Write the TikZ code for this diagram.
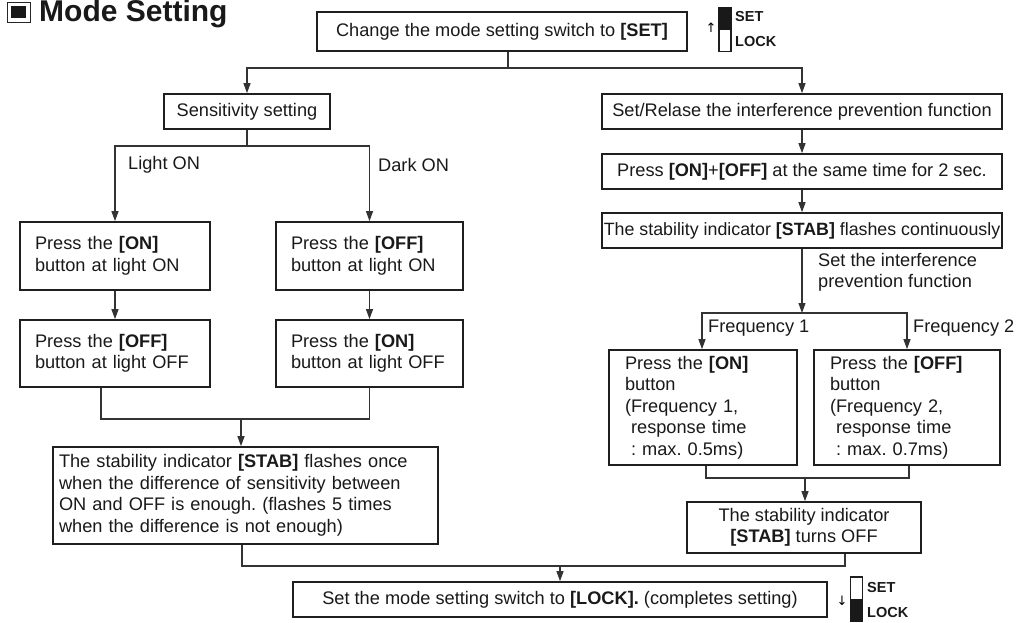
\documentclass[tikz,border=0pt]{standalone}
\usepackage{fontspec}
\setmainfont{Liberation Sans}
\newfontfamily\symfont{DejaVu Sans}
\usetikzlibrary{arrows.meta,calc}
\frenchspacing
\newcommand\fsz{\fontsize{18.2}{21.5}\selectfont\frenchspacing}
\newcommand\swfont{\fontsize{14.5}{16}\selectfont\bfseries}
\tikzset{
  box/.style={draw=black!88, line width=1.7pt, inner sep=0pt, font=\fsz, text=black!90},
  lbox/.style={box, align=left},
  cbox/.style={box, align=center},
  conn/.style={draw=black!80, line width=1.1pt},
  arr/.style={conn, -{Triangle[width=7pt,length=10pt]}},
  lbl/.style={inner sep=0pt, font=\fsz, anchor=west, align=left, text=black!90},
  swlbl/.style={inner sep=0pt, font=\swfont, anchor=west, text=black!90},
  swbox/.style={draw=black!88, line width=1.1pt, inner sep=0pt, minimum width=12, minimum height=44},
}
\begin{document}
\begin{tikzpicture}[x=1pt,y=-1pt]
\useasboundingbox (0,0) rectangle (1017,622);

% title
\draw[line width=0.8pt, draw=black!85] (7,2) rectangle (30,22);
\fill[black!90] (11,6) rectangle (26,18);
\node[inner sep=0pt, anchor=base west, font=\fontsize{30}{30}\selectfont\bfseries, text=black!90] (title) at (39,21.5) {Mode Setting};

% top
\node[cbox, minimum width=370, minimum height=39] (top) at (502,31.5) {Change the mode setting switch to \textbf{[SET]}};
\node[inner sep=0pt, font=\symfont\fontsize{13}{13}\selectfont] (uparr) at (711,28) {↑};
\node[swbox] (sw1) at (725,29.5) {};
\fill[black!90] (sw1.north west) rectangle (sw1.east);
\node[swlbl] (set1) at (735,17) {SET};
\node[swlbl] (lock1) at (735,42) {LOCK};

% left column
\node[cbox, minimum width=166, minimum height=35] (sens) at (247,111.5) {Sensitivity setting};
\node[lbox, minimum width=190, minimum height=68, inner xsep=15, text width=160] (onL) at (115,256) {Press the \textbf{[ON]}\\button at light ON};
\node[lbox, minimum width=187, minimum height=68, inner xsep=15, text width=157] (offL) at (369.5,256) {Press the \textbf{[OFF]}\\button at light ON};
\node[lbox, minimum width=190, minimum height=67, inner xsep=15, text width=160] (offL2) at (115,353.5) {Press the \textbf{[OFF]}\\button at light OFF};
\node[lbox, minimum width=187, minimum height=67, inner xsep=15, text width=157] (onL2) at (369.5,353.5) {Press the \textbf{[ON]}\\button at light OFF};
\node[lbox, minimum width=385, minimum height=97, inner xsep=6, text width=373] (stabL) at (245.5,495.5) {The stability indicator \textbf{[STAB]} flashes once\\when the difference of sensitivity between\\ON and OFF is enough. (flashes 5 times\\when the difference is not enough)};
\node[lbl] (lighton) at (128,165) {Light ON};
\node[lbl] (darkon) at (378,165) {Dark ON};

% right column
\node[cbox, minimum width=400, minimum height=35] (setrel) at (802,111.5) {Set/Relase the interference prevention function};
\node[cbox, minimum width=400, minimum height=35] (press) at (802,171.5) {Press \textbf{[ON]}+\textbf{[OFF]} at the same time for 2 sec.};
\node[cbox, minimum width=400, minimum height=35] (stabR) at (802,230.5) {\fontsize{17.8}{21.5}\selectfont The stability indicator \textbf{[STAB]} flashes continuously};
\node[lbl] (setint) at (818,272.5) {Set the interference\\prevention function};
\node[lbox, minimum width=188, minimum height=115, inner xsep=16, text width=156] (f1) at (703,407.5) {Press the \textbf{[ON]}\\button\\(Frequency 1,\\~response time\\~: max. 0.5ms)};
\node[lbox, minimum width=186, minimum height=115, inner xsep=16, text width=154] (f2) at (907,407.5) {Press the \textbf{[OFF]}\\button\\(Frequency 2,\\~response time\\~: max. 0.7ms)};
\node[lbl] (fq1) at (708,328) {Frequency 1};
\node[lbl] (fq2) at (913,328) {Frequency 2};
\node[cbox, minimum width=234, minimum height=51] (stabOff) at (804,527.5) {The stability indicator\\\textbf{[STAB]} turns OFF};

% bottom
\node[cbox, minimum width=534, minimum height=35] (lock) at (560,599.5) {Set the mode setting switch to \textbf{[LOCK].} (completes setting)};
\node[inner sep=0pt, font=\symfont\fontsize{13}{13}\selectfont] (dnarr) at (842,601) {↓};
\node[swbox] (sw2) at (856.5,599) {};
\fill[black!90] (sw2.west) rectangle (sw2.south east);
\node[swlbl] (set2) at (867,587) {SET};
\node[swlbl] (lock2) at (867,612) {LOCK};

% connectors
\coordinate (j0) at (508,68);
\draw[conn] ([xshift=6]top.south) -- (j0);
\draw[arr] (j0) -| (sens.north);
\draw[arr] (j0) -| (setrel.north);

\coordinate (j1) at (247,146);
\draw[conn] (sens.south) -- (j1);
\draw[arr] (j1) -| (onL.north);
\draw[arr] (j1) -| (offL.north);
\draw[arr] (onL) -- (offL2);
\draw[arr] (offL) -- (onL2);

\coordinate (m1) at (241,419);
\draw[conn] ([xshift=-14]offL2.south) |- (onL2.south |- m1) -- (onL2.south);
\draw[arr] (m1) -- (m1 |- stabL.north);

\draw[arr] (setrel) -- (press);
\draw[arr] (press) -- (stabR);
\coordinate (m2) at (802,313);
\draw[arr] (stabR.south) -- (m2);
\draw[arr] (m2) -| ([xshift=-1]f1.north);
\draw[arr] (m2) -| (f2.north);

\coordinate (m3) at (805,478);
\draw[conn] ([xshift=3]f1.south) |- ([xshift=2]f2.south |- m3) -- ([xshift=2]f2.south);
\draw[arr] (m3) -- (m3 |- stabOff.north);

\coordinate (m4) at (560,566);
\draw[conn] ([xshift=-3.5]stabL.south) |- ([xshift=41]stabOff.south |- m4) -- ([xshift=41]stabOff.south);
\draw[arr] (m4) -- (lock.north);
\end{tikzpicture}
\end{document}
